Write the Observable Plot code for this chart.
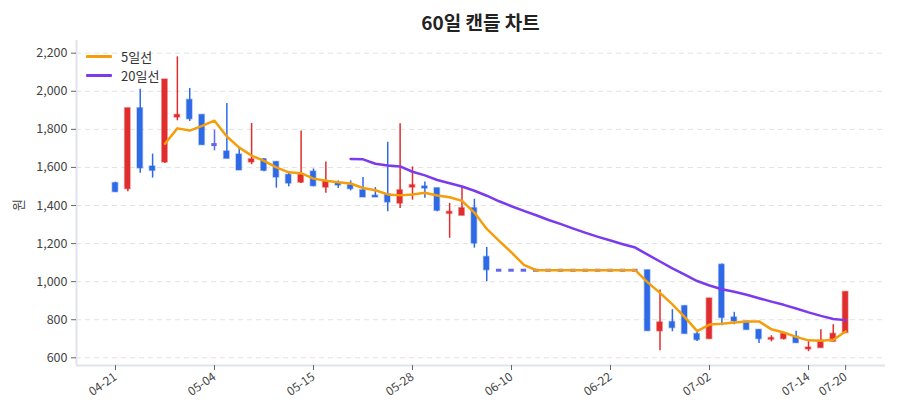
<!DOCTYPE html>
<html><head><meta charset="utf-8">
<script src="https://cdn.jsdelivr.net/npm/d3@7"></script>
<script src="https://cdn.jsdelivr.net/npm/@observablehq/plot@0.6"></script>
<style>
body{margin:0;background:#fff;font-family:"Noto Sans CJK KR","Noto Sans",sans-serif;}
#wrap{position:relative;width:900px;height:420px;overflow:hidden;}
#title{height:40px;line-height:44px;padding-left:76px;width:809px;text-align:center;font-size:19px;font-weight:700;color:#222;}
#legend{position:absolute;left:86px;top:47px;font-size:13px;color:#333;}
.item{display:flex;align-items:center;height:19px;}
.sw{width:26px;height:3px;margin-right:9px;border-radius:1px;}
#ylab{position:absolute;left:10px;top:196px;width:16px;height:18px;line-height:18px;text-align:center;font-size:13px;color:#444;transform:rotate(-90deg);}
</style></head><body>
<div id="wrap">
<div id="title">60일 캔들 차트</div>
<div id="chart"></div>
<div id="ylab">원</div>
<div id="legend">
<div class="item"><span class="sw" style="background:#f59e0b"></span>5일선</div>
<div class="item"><span class="sw" style="background:#7c3aed"></span>20일선</div>
</div>
</div>
<script>
const dates = ["04-21","04-22","04-23","04-24","04-27","04-28","04-29","04-30","05-04","05-06",
"05-07","05-08","05-11","05-12","05-13","05-14","05-15","05-18","05-19","05-20",
"05-21","05-22","05-26","05-27","05-28","05-29","06-01","06-02","06-04","06-05",
"06-08","06-09","06-10","06-11","06-12","06-15","06-16","06-17","06-18","06-19",
"06-22","06-23","06-24","06-25","06-26","06-29","06-30","07-01","07-02","07-03",
"07-06","07-07","07-08","07-09","07-10","07-13","07-14","07-15","07-16","07-20"];
const opens = [1518,1486,1911,1605,1626,1862,1955,1876,1720,1684,
1668,1626,1643,1629,1561,1520,1578,1494,1519,1507,
1480,1452,1459,1410,1494,1500,1491,1356,1346,1386,
1130,1060,1060,1060,1060,1060,1060,1060,1060,1060,
1060,1060,1060,1060,739,788,872,725,698,1089,
812,791,747,695,698,711,644,651,684,730];
const highs = [1522,1911,2011,1670,2062,2181,2015,1876,1796,1936,
1701,1831,1647,1629,1573,1791,1592,1629,1529,1529,
1547,1494,1732,1830,1603,1524,1491,1411,1500,1433,
1179,1060,1060,1060,1060,1060,1060,1060,1060,1060,
1060,1060,1060,1060,956,853,872,733,912,1093,
839,791,747,716,730,739,686,747,774,946];
const lows = [1468,1472,1570,1544,1621,1845,1841,1717,1687,1645,
1584,1614,1577,1491,1498,1515,1498,1465,1489,1477,
1442,1442,1367,1384,1428,1438,1367,1228,1346,1176,
1000,1060,1060,1060,1060,1060,1060,1060,1060,1060,
1060,1060,1060,740,637,737,725,686,698,768,
774,746,675,684,693,677,632,651,684,730];
const closes = [1470,1911,1595,1582,2062,1876,1853,1717,1720,1645,
1584,1643,1582,1547,1515,1561,1501,1526,1505,1486,
1442,1442,1416,1480,1507,1489,1372,1367,1386,1200,
1060,1060,1060,1060,1060,1060,1060,1060,1060,1060,
1060,1060,1060,740,786,756,725,693,912,809,
791,746,698,704,726,677,654,690,726,946];
const tickIdx = [0,8,16,24,32,40,48,56,59];
const yTicks = [600,800,1000,1200,1400,1600,1800,2000,2200];

const xDomain = [-3.15, 62.22];
const yDomain = [559.6, 2266.7];

function movingAvg(k){
  return closes.map((c,i)=> i < k-1 ? undefined : d3.mean(closes.slice(i-k+1, i+1)));
}
const ma5 = movingAvg(5), ma20 = movingAvg(20);
const candles = dates.map((d,i)=>({
  i, date:d, open:opens[i], high:highs[i], low:lows[i], close:closes[i],
  dir: closes[i] > opens[i] ? "up" : closes[i] < opens[i] ? "down" : "flat",
  ma5: ma5[i], ma20: ma20[i]
}));
const bodies = candles.filter(d => d.dir !== "flat");
const flats = candles.filter(d => d.dir === "flat");
const hw = 0.22;

const chart = Plot.plot({
  width: 900, height: 380,
  marginLeft: 76, marginRight: 15, marginTop: 0, marginBottom: 55,
  style: {fontFamily: '"Noto Sans CJK KR","Noto Sans",sans-serif', fontSize: "12px", color: "#444", background: "#fff"},
  x: {domain: xDomain},
  y: {domain: yDomain},
  color: {domain: ["up","down","flat"], range: ["#e02d2d","#2f6ae6","#6366f1"]},
  marks: [
    Plot.ruleY(yTicks, {stroke: "#e2e2e2", strokeWidth: 1, strokeDasharray: "5,4"}),
    Plot.ruleX([xDomain[0]], {stroke: "#dfe3ea", strokeWidth: 2}),
    Plot.ruleY([yDomain[0]], {stroke: "#dfe3ea", strokeWidth: 2}),
    Plot.axisY(yTicks, {tickFormat: d3.format(","), tickSize: 5, tickPadding: 4, stroke: "#666", fill: "#444", fontSize: 12.5, label: null}),
    Plot.axisX(tickIdx, {tickFormat: i => dates[i], tickRotate: -35, tickSize: 5, tickPadding: 5, stroke: "#666", fill: "#444", fontSize: 12, label: null}),
    Plot.ruleX(candles, {x: "i", y1: "low", y2: "high", stroke: "dir", strokeWidth: 1.5}),
    Plot.rect(bodies, {x1: d => d.i - hw, x2: d => d.i + hw, y1: "open", y2: "close", fill: "dir", stroke: "dir", strokeOpacity: 0.4, strokeWidth: 1.5}),
    Plot.ruleY(flats, {x1: d => d.i - hw, x2: d => d.i + hw, y: "close", stroke: "dir", strokeWidth: 3}),
    Plot.line(candles, {x: "i", y: "ma5", stroke: "#f59e0b", strokeWidth: 2.5}),
    Plot.line(candles, {x: "i", y: "ma20", stroke: "#7c3aed", strokeWidth: 2.5})
  ]
});
document.getElementById("chart").appendChild(chart);
</script>
</body></html>
